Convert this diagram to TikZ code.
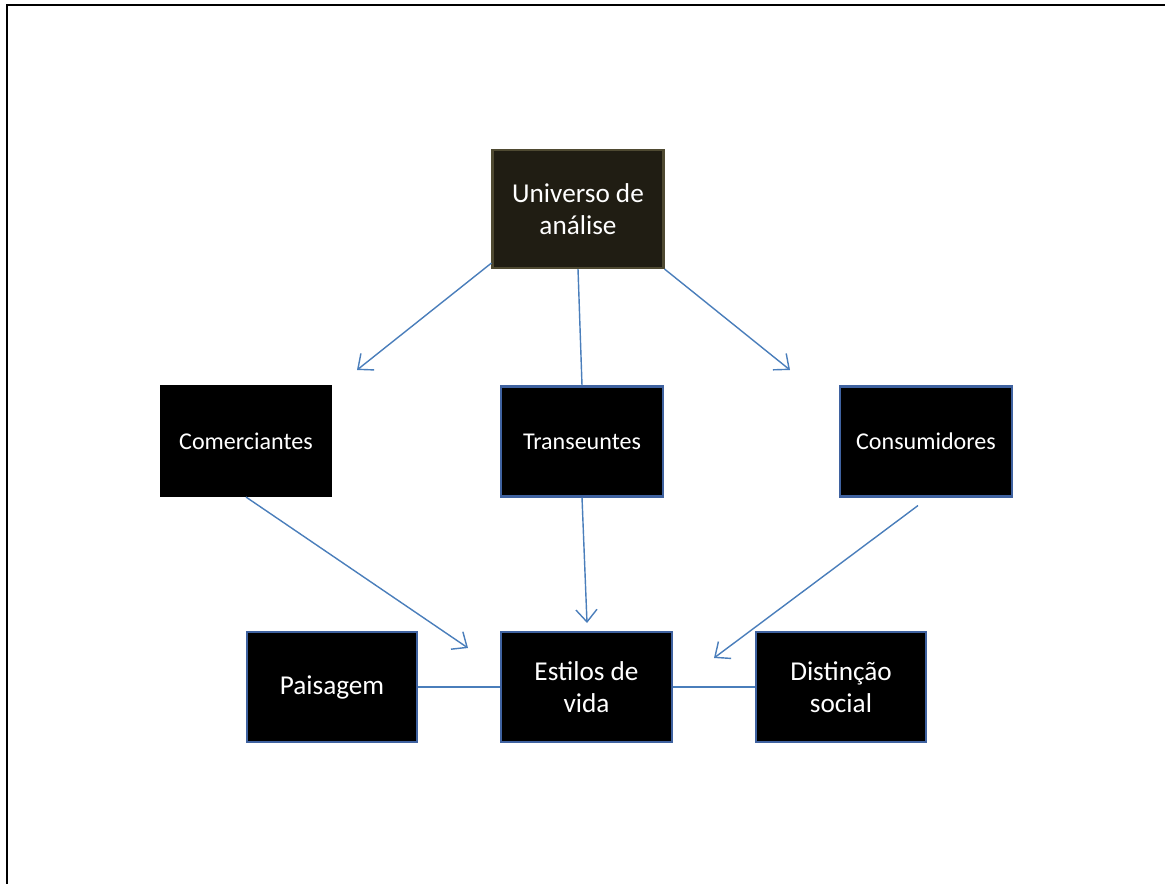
\documentclass[tikz,border=0pt]{standalone}
\usepackage{fontspec}
\setmainfont{Carlito}
\usetikzlibrary{arrows.meta}
\definecolor{seta}{HTML}{4A7EBB}
\definecolor{borda}{HTML}{3F62A0}
\definecolor{fundo}{HTML}{201D13}
\definecolor{oliva}{HTML}{4F4A32}

\begin{document}
\begin{tikzpicture}[x=0.02cm,y=-0.02cm,
    caixa/.style={rectangle,draw=borda,line width=1.2pt,fill=black,text=white,align=center,
        minimum width=3.4cm,minimum height=2.2cm,inner sep=0pt},
    pequena/.style={caixa,font=\fontsize{13.7}{16}\selectfont},
    grande/.style={caixa,font=\fontsize{15.5}{18}\selectfont},
    liga/.style={draw=seta,line width=0.8pt},
    >={Straight Barb[length=7pt,width=12pt]}]
    \useasboundingbox (0,0) rectangle (1165,884);
    \draw [line width=1.2pt] (1165,5) -- (7,5) -- (7,884);
    \node (universo) [grande,fill=fundo,draw=oliva,minimum width=3.42cm,minimum height=2.36cm] at (578,209) {Universo de\\análise};
    \node (comerc) [pequena,draw=black] at (246,441) {Comerciantes};
    \node (trans) [pequena,minimum width=3.24cm] at (582,441.5) {Transeuntes};
    \node (consum) [pequena,minimum width=3.44cm] at (926,441.5) {Consumidores};
    \node (paisagem) [grande] at (332,687) {Paisagem};
    \node (estilos) [grande,minimum width=3.42cm] at (586.5,687) {Estilos de\\vida};
    \node (distincao) [grande] at (841,687) {Distinção\\social};
    \coordinate (a1) at (357,370);
    \coordinate (a2) at (790,370);
    \coordinate (a3) at (468,648);
    \coordinate (a4) at (587,623);
    \coordinate (a5) at (714,658);
    \draw [->,liga] (universo.south west) ++(0,-6) -- (a1);
    \draw [liga] (universo.south) -- (trans.north);
    \draw [->,liga] (universo.south east) -- (a2);
    \draw [->,liga] (comerc.south) -- (a3);
    \draw [->,liga] (trans.south) -- (a4);
    \draw [->,liga] (consum.south) ++(-8,8) -- (a5);
    \draw [liga] (paisagem) -- (estilos);
    \draw [liga] (estilos) -- (distincao);
\end{tikzpicture}
\end{document}
